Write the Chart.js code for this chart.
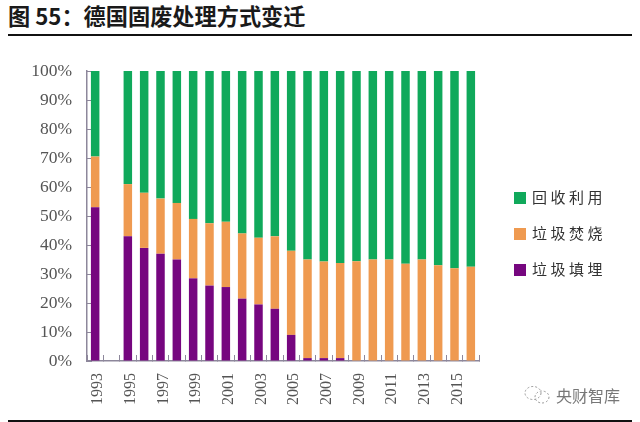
<!DOCTYPE html>
<html>
<head>
    <meta charset="utf-8" />
    <title>德国固废处理方式变迁</title>
    <script src="https://cdn.jsdelivr.net/npm/chart.js@4/dist/chart.umd.min.js"></script>
    <style>
        html, body { margin: 0; padding: 0; background: #fff; }
        body { position: relative; width: 640px; height: 422px; overflow: hidden; }
        canvas { position: absolute; left: 0; top: 0; }
        #titulo {
            position: absolute; left: 8px; top: 0; white-space: nowrap;
            font: 700 22.2px/30px "Noto Sans CJK SC"; color: #1a1a1a;
        }
        .regua { position: absolute; left: 8px; width: 624px; background: #111; }
        #legenda { position: absolute; left: 514px; top: 179px; }
        #legenda div {
            height: 36px; font: 15px/36px "Noto Sans CJK SC";
            letter-spacing: 3.5px; color: #333; white-space: nowrap;
        }
        #legenda span {
            display: inline-block; width: 12px; height: 12px; margin-right: 6px; vertical-align: -1px;
        }
        #marca {
            position: absolute; left: 556px; top: 384px; font: 16px/22px "Noto Sans CJK SC"; color: #777;
        }
    </style>
</head>
<body>
    <div id="titulo">图 55：德国固废处理方式变迁</div>
    <div class="regua" style="top:34px;height:2px"></div>
    <canvas id="chtResiduos" width="640" height="422"></canvas>
    <div id="legenda"></div>
    <svg style="position:absolute;left:522px;top:383px" width="32" height="24" fill="none" stroke="#999" stroke-dasharray="2 2">
        <ellipse cx="11" cy="10" rx="8" ry="6.5" />
        <ellipse cx="20" cy="14" rx="7" ry="6" />
    </svg>
    <div id="marca">央财智库</div>
    <div class="regua" style="top:420px;height:2px"></div>

    <script>
        const anos = ['1993', '1994', '1995', '1996', '1997', '1998', '1999', '2000', '2001', '2002', '2003', '2004',
            '2005', '2006', '2007', '2008', '2009', '2010', '2011', '2012', '2013', '2014', '2015', '2016'];

        const aterro = [53, null, 43, 39, 37, 35, 28.5, 26, 25.5, 21.5, 19.5, 18,
            9, 1, 1, 1, 0, 0, 0, 0, 0, 0, 0, 0];
        const incineracao = [17.5, null, 18, 19, 19, 19.5, 20.5, 21.5, 22.5, 22.5, 23, 25,
            29, 34, 33.3, 32.8, 34.4, 35, 35, 33.5, 35, 33, 32, 32.5];
        const reciclagem = [29.5, null, 39, 42, 44, 45.5, 51, 52.5, 52, 56, 57.5, 57,
            62, 65, 65.7, 66.2, 65.6, 65, 65, 66.5, 65, 67, 68, 67.5];

        const marcasY = [0, 10, 20, 30, 40, 50, 60, 70, 80, 90, 100];

        const nomes = { aterro: '垃圾填埋', incineracao: '垃圾焚烧', reciclagem: '回收利用' };
        const cores = { aterro: '#76067f', incineracao: '#ef9a50', reciclagem: '#10a95b' };

        // legenda na ordem da figura
        ['reciclagem', 'incineracao', 'aterro'].forEach(k => {
            const item = document.createElement('div');
            item.innerHTML = '<span style="background:' + cores[k] + '"></span>' + nomes[k];
            document.getElementById('legenda').appendChild(item);
        });

        const corEixo = '#8d879b';
        const corTexto = '#555';
        const fonteEixo = "'Liberation Serif', 'DejaVu Serif', serif";

        function barra(chave, dados) {
            return {
                label: nomes[chave],
                data: dados,
                backgroundColor: cores[chave],
                categoryPercentage: 1,
                barPercentage: 0.52
            };
        }

        new Chart(document.getElementById('chtResiduos').getContext('2d'), {
            type: 'bar',
            data: {
                labels: anos,
                datasets: [barra('aterro', aterro), barra('incineracao', incineracao), barra('reciclagem', reciclagem)]
            },
            options: {
                responsive: false,
                animation: false,
                layout: { padding: { left: 0, top: 71, right: 161, bottom: 0 } },
                plugins: { legend: { display: false }, tooltip: { enabled: false } },
                scales: {
                    x: {
                        stacked: true,
                        afterFit: s => { s.height = 61; },
                        border: { color: corEixo, width: 1.5 },
                        grid: { drawOnChartArea: false, color: corEixo, tickLength: -6 },
                        ticks: {
                            autoSkip: false, minRotation: 90, maxRotation: 90, padding: 18, labelOffset: 3,
                            color: corTexto,
                            font: { family: fonteEixo, size: 16 },
                            callback: function (v, i) { return i % 2 === 0 ? anos[i] : ''; }
                        }
                    },
                    y: {
                        stacked: true,
                        min: 0,
                        max: 100,
                        afterFit: s => { s.width = 87; },
                        afterBuildTicks: s => { s.ticks = marcasY.map(v => ({ value: v })); },
                        border: { color: corEixo, width: 1.5 },
                        grid: { drawOnChartArea: false, color: corEixo, tickLength: -5 },
                        ticks: {
                            padding: 20,
                            color: corTexto,
                            font: { family: fonteEixo, size: 17.5 },
                            callback: v => v + '%'
                        }
                    }
                }
            }
        });
    </script>
</body>
</html>
